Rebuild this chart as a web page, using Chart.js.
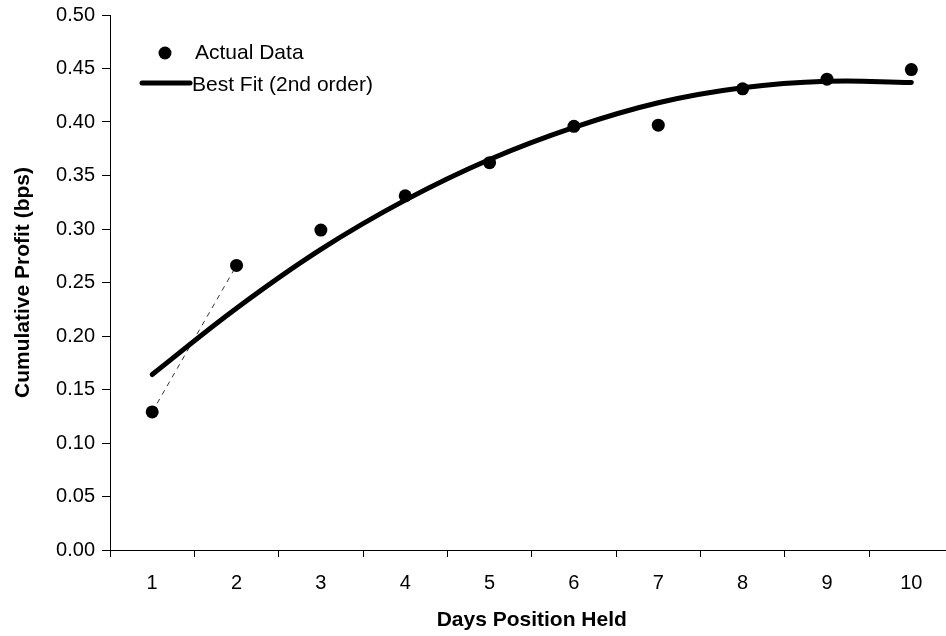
<!DOCTYPE html>
<html>
<head>
<meta charset="utf-8">
<script src="https://cdn.jsdelivr.net/npm/chart.js@4/dist/chart.umd.min.js"></script>
<style>
  html, body { margin: 0; padding: 0; background: #fff; overflow: hidden; }
  #wrap { width: 960px; height: 636px; }
</style>
</head>
<body>
<div id="wrap"><canvas id="profit_chart"></canvas></div>
<script>
// days the position was held
const days = ['1', '2', '3', '4', '5', '6', '7', '8', '9', '10'];

// measured cumulative profit (bps)
const actual_data = [0.129, 0.266, 0.299, 0.331, 0.362, 0.396, 0.397, 0.431, 0.440, 0.449];

// 2nd order best fit
const best_fit = [0.164, 0.226, 0.281, 0.327, 0.365, 0.395, 0.418, 0.432, 0.438, 0.437];

// thin dashed link between the first two points
const first_link = [0.129, 0.266, null, null, null, null, null, null, null, null];

const y_ticks = [0, 0.05, 0.10, 0.15, 0.20, 0.25, 0.30, 0.35, 0.40, 0.45, 0.50];

const FONT = '"Liberation Sans", Arial, sans-serif';

// legend drawn inside the plot, top left
const insideLegend = {
    id: 'insideLegend',
    afterDraw(chart) {
        const ctx = chart.ctx;
        const ds = chart.data.datasets;
        ctx.save();
        ctx.font = '21px ' + FONT;
        ctx.fillStyle = '#000';
        ctx.textBaseline = 'middle';
        // dot entry
        ctx.beginPath();
        ctx.arc(165, 53, 6.5, 0, Math.PI * 2);
        ctx.fill();
        ctx.fillText(ds[0].label, 195, 53);
        // line entry
        ctx.strokeStyle = '#000';
        ctx.lineWidth = 5;
        ctx.lineCap = 'round';
        ctx.beginPath();
        ctx.moveTo(142, 83);
        ctx.lineTo(190, 83);
        ctx.stroke();
        ctx.fillText(ds[1].label, 192, 85);
        ctx.restore();
    }
};

new Chart(document.getElementById('profit_chart').getContext('2d'), {
    type: 'line',
    data: {
        labels: days,
        datasets: [
            {
                label: 'Actual Data',
                data: actual_data,
                showLine: false,
                pointRadius: 6.5,
                pointBackgroundColor: '#000',
                pointBorderWidth: 0,
                order: 0,
            },
            {
                label: 'Best Fit (2nd order)',
                data: best_fit,
                borderColor: '#000',
                borderWidth: 5,
                borderCapStyle: 'round',
                tension: 0.4,
                pointRadius: 0,
                order: 1,
            },
            {
                label: '',
                data: first_link,
                borderColor: '#333',
                borderWidth: 1,
                borderDash: [5, 5],
                pointRadius: 0,
                spanGaps: false,
                order: 2,
            },
        ],
    },
    options: {
        responsive: true,
        maintainAspectRatio: false,
        animation: false,
        layout: {
            padding: { top: 15, right: 5, left: 0, bottom: 0 },
        },
        plugins: {
            legend: { display: false },
            tooltip: { enabled: false },
        },
        scales: {
            x: {
                offset: true,
                grid: {
                    display: true,
                    offset: true,
                    drawOnChartArea: false,
                    tickLength: 7,
                    color: '#000',
                },
                border: { color: '#000', width: 1 },
                ticks: {
                    color: '#000',
                    font: { family: FONT, size: 20 },
                    padding: 14,
                    maxRotation: 0,
                },
                title: {
                    display: true,
                    text: 'Days Position Held',
                    color: '#000',
                    font: { family: FONT, size: 21, weight: 'bold' },
                    padding: { top: 10, bottom: 3 },
                },
                afterFit(s) { s.height = 86; s.paddingLeft = 0; s.paddingRight = 0; },
            },
            y: {
                min: 0,
                max: 0.5,
                afterBuildTicks(s) { s.ticks = y_ticks.map(v => ({ value: v })); },
                grid: {
                    display: true,
                    drawOnChartArea: false,
                    tickLength: 8,
                    color: '#000',
                },
                border: { color: '#000', width: 1 },
                ticks: {
                    color: '#000',
                    font: { family: FONT, size: 20 },
                    padding: 7,
                    callback: v => v.toFixed(2),
                },
                title: {
                    display: true,
                    text: 'Cumulative Profit (bps)',
                    color: '#000',
                    font: { family: FONT, size: 21, weight: 'bold' },
                    padding: { top: 11, bottom: 6 },
                },
                afterFit(s) { s.width = 110; s.paddingTop = 0; s.paddingBottom = 0; },
            },
        },
    },
    plugins: [insideLegend],
});
</script>
</body>
</html>
